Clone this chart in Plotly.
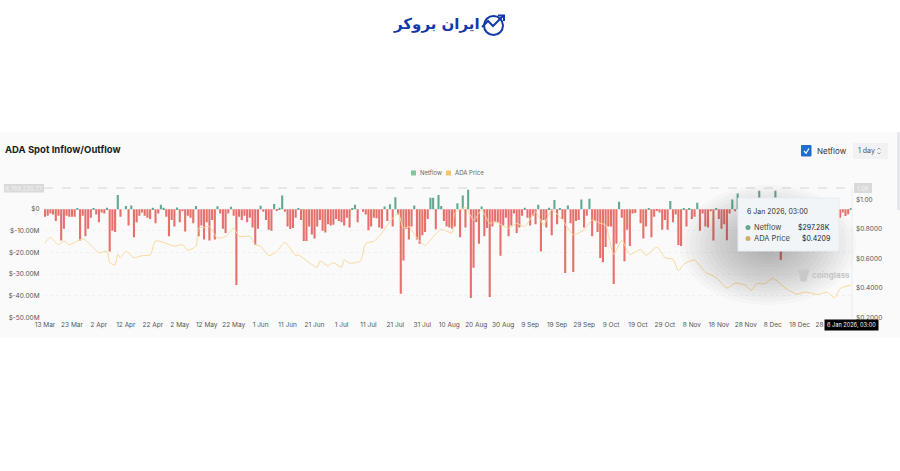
import pandas as pd
import plotly.graph_objects as go

# netflow per day from 13 Mar 2025, in $M. None = hidden behind the tooltip
netflow = [
    -3.5,-3,-2,-2.5,-5.5,-3,-14.5,-9,-3,-3.5,-3.5,-3.5,.5,-14.5,-3,-12.5,-9,-4,.2,-2.5,-6,-1.5,-2,.6,-19.5,-10,-10.5,6.5,-3.5,0,1.5,-7.5,1.7,-13,-6,-3,-1.5,
    -3,-4,-4.5,.6,-6.5,-2,2,.7,-3.5,-12.5,-5,-8,.8,-6,-1,-10.3,-3,-4,-6.5,1.5,-12.5,-7.5,-14,-6,-14.5,-5,-14,1.4,-2,-9,-11,-2,1.1,-3,-35,-3.5,-5,-3,
    -6,-4,-8.5,-16.5,-9,1.6,-1.2,-5,-9.5,-10,2.4,-.8,.6,6.3,-1.2,-8,-9.2,-8.7,-4,.2,-5,-14.7,-14.7,-8,-11.7,-13.5,-8,-5,-10,-10.8,-7,-7.5,-7.2,-4.5,-5.5,-6,-7.5,-4,
    -8.5,.4,2,-6,0,-1.2,-2.5,-9.7,-8,-4,-4.2,-8.5,-9,1.2,-5.5,2.3,-8,5.5,-2.5,-39,-23.7,-9,-14,-8,1.7,-14,-16,-12,-10.5,-4.5,5.3,5.3,-9.3,6.5,1.5,-5.5,-8,
    -8.5,-9,-8,2.7,-13,6.3,-8.5,9,-41,-27,-6,-16,1.2,-12.5,-8.7,-40.5,-8,-6,-6,-21.5,-7.5,-4,-12.5,-7.5,-2,-11,-8.5,-3,.7,-4,-7.5,-3,-7,2,-19.5,-5,-8.5,.6,
    -12,4.2,-7,.5,-4.5,-29.5,1.7,-6.5,-29,-5.5,-5,4.5,-8.5,-3,4.8,-12.5,-5.5,-10.5,-22.5,-24.5,-17.5,-8,-8,-34.5,-16,3.4,-4,-24,-9.5,-17,-2,-1.8,0,-6.5,-13.5,-8,.1,-13,
    -3.5,-.8,-1.5,-9.5,-5,-9.5,3.8,-6,-2.5,-16.5,-17,.1,-8,.2,-4.5,-3.5,3,-10,-2,-8,-8.5,-1,-14.5,.1,-4.5,-9,-7,-14.3,-2,4.5,-1,7.2,
    None,None,None,None,None,None,None,8.5,None,None,None,None,None,8.5,None,-23.5,
    None,None,None,None,None,None,None,None,None,None,None,None,None,None,None,None,None,None,None,None,None,
    -4,-1.5,-3.2,-2.3,.297,
]

# price, at days counted from 13 Mar 2025
price_days = [0,2,4,5,7,9,14,18,20,23,24,26,27,28,30,33,36,39,41,44,48,51,53,56,57,59,61,64,67,70,72,76,78,80,83,86,89,93,
              94,98,101,102,105,107,110,111,113,117,119,122,125,127,131,133,135,138,141,144,147,151,152,156,159,162,165,167,172,175,178,182,185,188,192,196,200,203,
              206,208,211,214,217,221,223,227,230,233,235,237,241,245,249,253,256,260,262,264,267,270,275,279,282,287,290,293,295,299]
price_values = [.707,.744,.707,.695,.72,.695,.735,.673,.64,.65,.573,.556,.63,.607,.65,.607,.62,.625,.72,.71,.684,.695,.658,.684,.807,.813,.818,.74,.751,.807,.751,.751,.695,.684,.62,.649,.711,.622,
                .625,.573,.54,.584,.551,.573,.54,.59,.569,.584,.702,.718,.773,.829,.907,.807,.818,.74,.69,.747,.8,.773,.907,.947,.862,.929,.84,.851,.807,.84,.818,.918,.829,.929,.862,.762,.796,.862,
                .84,.829,.629,.724,.629,.662,.622,.678,.607,.596,.518,.562,.591,.507,.473,.4,.433,.418,.384,.429,.429,.467,.396,.358,.373,.356,.373,.333,.396,.4209]

left_ticks = [0, -10, -20, -30, -40, -50]
left_labels = ["$0", "$-10.00M", "$-20.00M", "$-30.00M", "$-40.00M", "$-50.00M"]
right_ticks = [0.2, 0.4, 0.6, 0.8, 1.0]
right_labels = ["$0.2000", "$0.4000", "$0.6000", "$0.8000", "$1.00"]

W, H = 900, 471
FONT = "Inter"
RED = "#e5706c"
GREEN = "#63a88f"
ORANGE = "#f9d79c"
BLUE = "#1239a8"


def px(x):
    return x / W


def py(y):
    return 1 - y / H


def rect(x0, y0, x1, y1, fill, line="rgba(0,0,0,0)", layer="above"):
    return dict(type="rect", xref="paper", yref="paper", x0=px(x0), x1=px(x1), y0=py(y0), y1=py(y1),
                fillcolor=fill, line=dict(color=line, width=1), layer=layer)


def poly(points, color, width=1.5, fill=None):
    d = "M" + " L".join(f"{px(x):.5f},{py(y):.5f}" for x, y in points)
    if fill:
        d += " Z"
    return dict(type="path", xref="paper", yref="paper", path=d, fillcolor=fill,
                line=dict(color=color, width=width))


def note(x, y, text, size=7, color="#555", anchor="left", bold=False, family=FONT):
    return dict(xref="paper", yref="paper", x=px(x), y=py(y), text=f"<b>{text}</b>" if bold else text,
                showarrow=False, xanchor=anchor, yanchor="middle",
                font=dict(size=size, color=color, family=family))


dates = pd.date_range("2025-03-13", periods=len(netflow), freq="D")
price_dates = [dates[0] + pd.Timedelta(days=d) for d in price_days]
colors = [GREEN if v is not None and v > 0 else RED for v in netflow]

fig = go.Figure()
fig.add_trace(go.Bar(x=dates, y=netflow, marker=dict(color=colors, line_width=0), name="Netflow", yaxis="y"))
fig.add_trace(go.Scatter(x=price_dates, y=price_values, mode="lines", name="ADA Price", yaxis="y2",
                         line=dict(color=ORANGE, width=1, shape="spline", smoothing=0.6)))

shapes = [
    rect(0, 132, 900, 338, "#fafafa", layer="below"),
    rect(897, 132, 900, 210, "#e6e8ec"),
    # top dashed marker line
    dict(type="line", xref="paper", yref="paper", x0=px(44), x1=px(852), y0=py(188), y1=py(188),
         line=dict(color="#d4d4d4", width=1, dash="dash")),
    dict(type="line", xref="paper", yref="paper", x0=px(852), x1=px(852), y0=py(188), y1=py(318),
         line=dict(color="#ececec", width=1)),
    rect(4, 184, 44, 192.5, "#d9d9d9"),
    rect(854, 183, 872, 193, "#d9d9d9"),
    # legend swatches
    rect(411, 170.5, 416, 175.5, "#7fc79a"),
    rect(446, 170.5, 451, 175.5, "#f2c66f"),
    # checkbox and select
    rect(801.5, 145.5, 811, 156, "#1f6fd0", "#1f6fd0"),
    poly([(804, 151), (806, 153.2), (809, 148.5)], "white", 1.2),
    rect(853, 143, 888, 159, "#f0f2f4"),
    poly([(877.5, 149.5), (879, 148), (880.5, 149.5)], "#777", 0.7),
    poly([(877.5, 152.5), (879, 154), (880.5, 152.5)], "#777", 0.7),
]

# tooltip shadow, stacked ellipses
for i in range(16):
    rx = 88 - i * 5
    ry = 60 - i * 3.4
    shapes.append(dict(type="circle", xref="paper", yref="paper", x0=px(768 - rx), x1=px(768 + rx),
                       y0=py(245 - ry), y1=py(245 + ry), fillcolor="rgba(40,40,40,0.024)", line_width=0))

shapes += [
    rect(738, 198, 839, 251, "#f1f5f8", "#e8ecef"),
    dict(type="circle", xref="paper", yref="paper", x0=px(745.5), x1=px(750.5), y0=py(225), y1=py(230),
         fillcolor=GREEN, line_width=0),
    dict(type="circle", xref="paper", yref="paper", x0=px(745.5), x1=px(750.5), y0=py(236), y1=py(241),
         fillcolor="#cfae6b", line_width=0),
    # coinglass mark
    poly([(798, 270), (809, 270), (807, 276), (806, 281), (801, 281), (800, 276)], "#c9c9c9", 1, "#c9c9c9"),
    # logo icon
    dict(type="circle", xref="paper", yref="paper", x0=px(484), x1=px(503), y0=py(16), y1=py(35),
         line=dict(color=BLUE, width=2)),
    poly([(482, 27), (488, 21), (493, 26), (503, 16)], BLUE, 2),
    poly([(498, 15.5), (504, 15.5), (504, 21)], BLUE, 2),
]

annotations = [
    note(436, 24, "ایران بروکر", 15, BLUE, "center", True, "DejaVu Sans"),
    note(3, 150, "ADA Spot Inflow/Outflow", 9.5, "#1d1d1f", bold=True),
    note(418, 173, "Netflow", 6, "#666"),
    note(453, 173, "ADA Price", 6, "#666"),
    note(24, 188, "9,769,230.77", 6, "#f4f4f4", "center"),
    note(863, 188, "1.08", 6, "#f4f4f4", "center"),
    note(815, 150.5, "Netflow", 8, "#333"),
    note(856, 150.5, "1 day", 7, "#555"),
    note(745, 211, "6 Jan 2026, 03:00", 7, "#333"),
    note(752, 227.5, "Netflow", 7.5, "#444"),
    note(832, 227.5, "$297.28K", 7, "#222", "right"),
    note(752, 238.5, "ADA Price", 7.5, "#444"),
    note(832, 238.5, "$0.4209", 7, "#222", "right"),
    note(810, 275, "coinglass", 8, "#c6c6c6", bold=True),
    dict(xref="paper", yref="paper", x=px(851), y=py(325), text="6 Jan 2026, 03:00", showarrow=False,
         xanchor="center", yanchor="middle", bgcolor="black", borderpad=2,
         font=dict(size=5.6, color="white", family=FONT)),
]

fig.update_layout(
    width=W, height=H,
    margin=dict(l=0, r=0, t=0, b=0, autoexpand=False),
    paper_bgcolor="white",
    plot_bgcolor="rgba(0,0,0,0)",
    showlegend=False,
    bargap=0.22,
    font=dict(family=FONT, size=7, color="#555"),
    shapes=shapes,
    annotations=annotations,
    xaxis=dict(
        domain=[px(43.5), px(852)],
        range=["2025-03-12 10:30", "2026-01-06 10:00"],
        tick0="2025-03-13", dtick=864000000, tickformat="%-d %b",
        showgrid=False, zeroline=False, showline=False, ticks="",
        ticklabelstandoff=2,
        tickfont=dict(size=6.5, color="#555"),
    ),
    yaxis=dict(
        domain=[py(317.5), py(188)],
        range=[-50, 9.769],
        tickvals=left_ticks, ticktext=left_labels,
        gridcolor="#f1f1f1", griddash="dot", zeroline=False, ticks="",
        ticklabelstandoff=3,
        tickfont=dict(size=6.5, color="#555"),
    ),
    yaxis2=dict(
        domain=[py(317.5), py(188)],
        overlaying="y", side="right", anchor="x",
        range=[0.2, 1.08],
        tickvals=right_ticks, ticktext=right_labels,
        showgrid=False, zeroline=False, ticks="",
        ticklabelstandoff=3,
        tickfont=dict(size=6.5, color="#555"),
    ),
)

# the browser's default body margin would push the figure 8px in
fig.write_html("out.html", config={"displayModeBar": False}, post_script="document.body.style.margin = '0';")
